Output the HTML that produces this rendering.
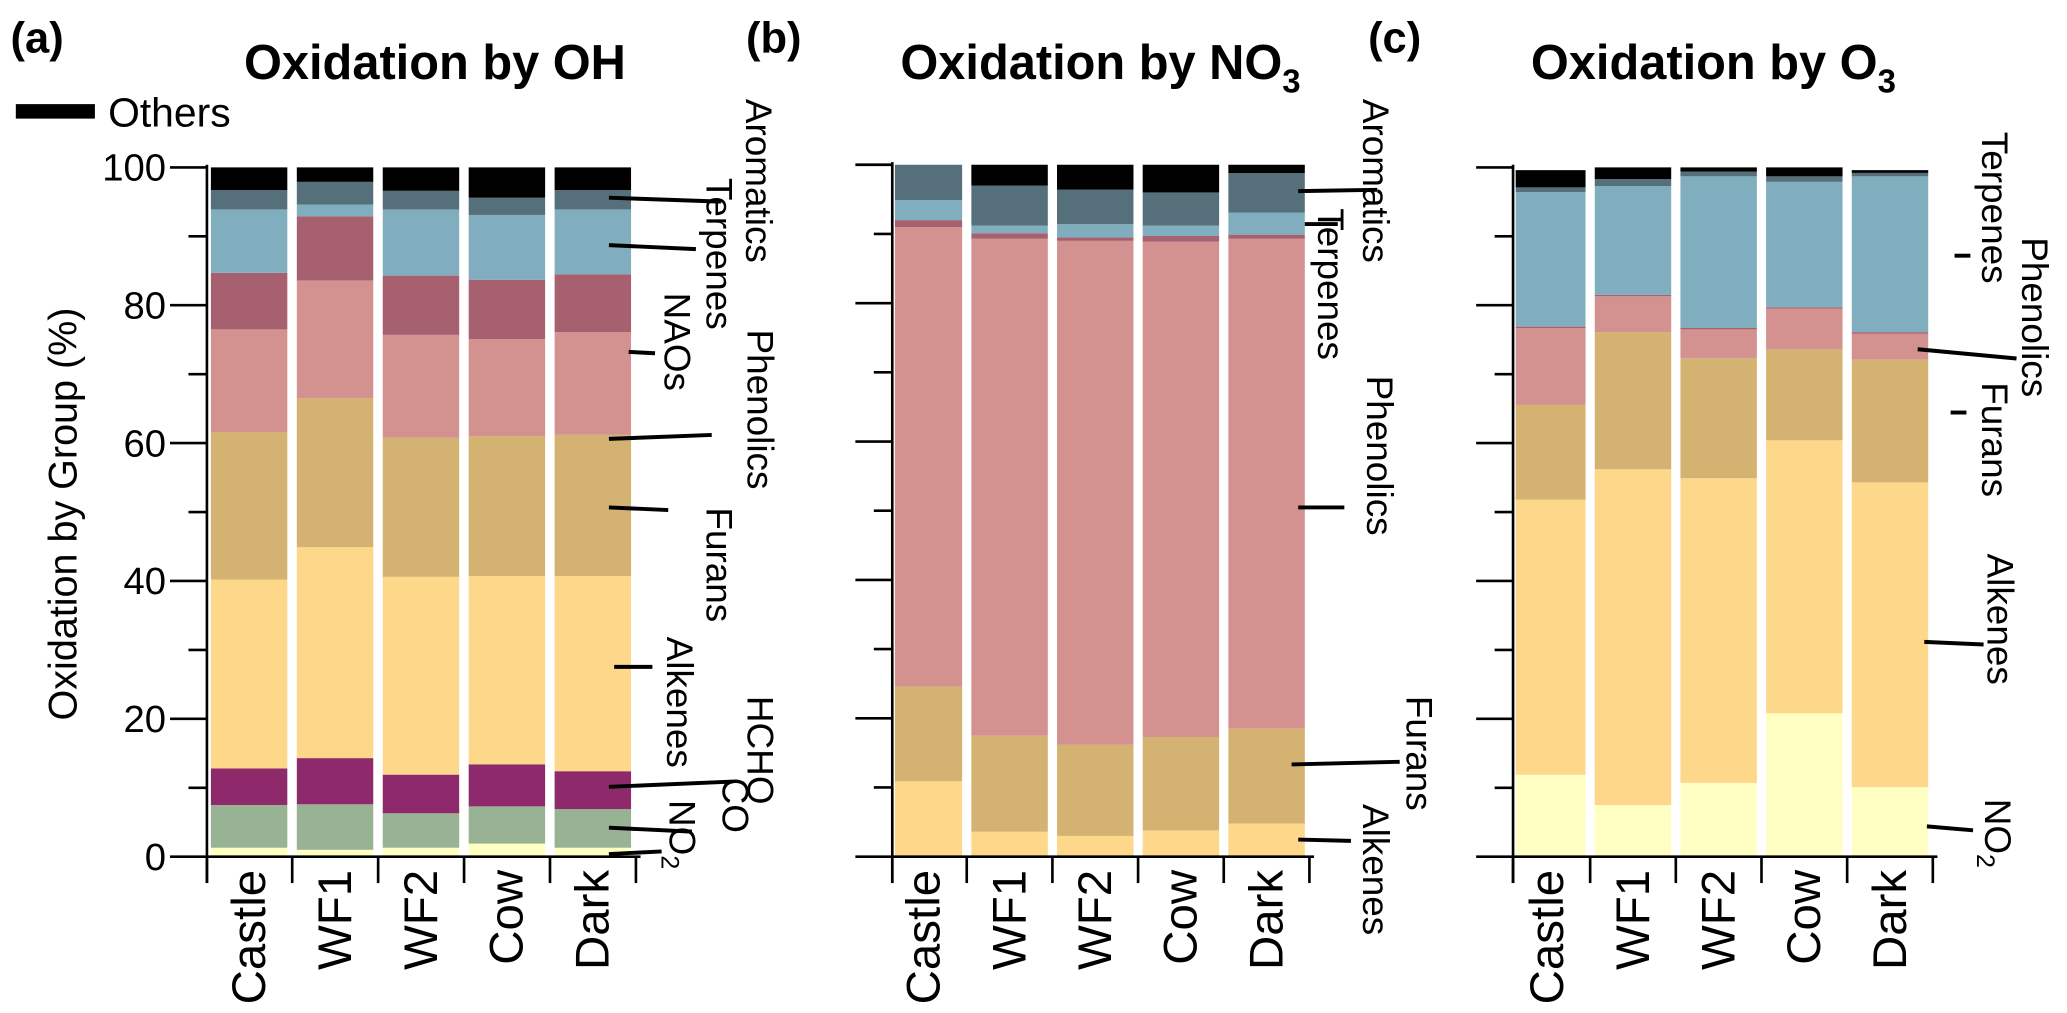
<!DOCTYPE html>
<html><head><meta charset="utf-8"><style>
html,body{margin:0;padding:0;background:#fff}
svg{display:block}
text{font-family:"Liberation Sans",sans-serif;fill:#000}
</style></head><body>
<svg id="fig" width="2067" height="1013" viewBox="0 0 1568.3 768.6" xmlns="http://www.w3.org/2000/svg">
<g id="root"></g>
</svg>
<script>
const categories = ["Castle","WF1","WF2","Cow","Dark"];
const groups = ["NO2","CO","HCHO","Alkenes","Furans","Phenolics","NAOs","Terpenes","Aromatics","Others"];
const colors = ["#fffec3","#97b394","#8e2a6b","#fdd78a","#d4b271","#d39190","#a6606f","#80aebe","#55707a","#000000"];
// cumulative tops (%) per group, per category
const cumOH = [
 [1.3,7.5,12.8,40.2,61.6,76.5,84.7,93.9,96.7,100],
 [1.0,7.6,14.3,44.9,66.5,83.6,92.9,94.6,97.9,100],
 [1.3,6.3,11.9,40.6,60.8,75.7,84.3,93.9,96.6,100],
 [1.9,7.3,13.4,40.7,61.0,75.1,83.7,93.1,95.6,100],
 [1.3,6.9,12.4,40.7,61.2,76.1,84.5,93.9,96.7,100]];
const cumNO3 = [
 [0,0,0,10.9,24.6,91.0,92.0,94.9,100,100],
 [0,0,0,3.6,17.5,89.3,90.1,91.2,97.0,100],
 [0,0,0,3.0,16.2,89.0,89.5,91.4,96.4,100],
 [0,0,0,3.8,17.3,88.9,89.7,91.2,96.0,100],
 [0,0,0,4.8,18.5,89.3,89.9,93.1,98.8,100]];
const cumO3 = [
 [11.9,11.9,11.9,51.8,65.6,76.7,76.9,96.4,97.1,99.6],
 [7.5,7.5,7.5,56.2,76.1,81.3,81.5,97.3,98.3,100],
 [10.7,10.7,10.7,54.9,72.3,76.5,76.7,98.7,99.4,100],
 [20.8,20.8,20.8,60.4,73.6,79.5,79.7,97.9,98.7,100],
 [10.1,10.1,10.1,54.3,72.1,75.9,76.1,98.7,99.2,99.6]];
const yTicks = [0,20,40,60,80,100];

const NS="http://www.w3.org/2000/svg";
const root=document.getElementById('root');
function mk(tag,attrs,parent){const e=document.createElementNS(NS,tag);for(const k in attrs)e.setAttribute(k,attrs[k]);(parent||root).appendChild(e);return e;}
function txt(s,attrs,parent){const e=mk('text',attrs,parent);e.textContent=s;return e;}

const panels=[
 {id:'oh',data:cumOH,axisX:157,firstBar:160,pitch:65.2,y0:650,y100:127,labels:true},
 {id:'no3',data:cumNO3,axisX:677,firstBar:672,pitch:65,y0:650,y100:125,labels:false},
 {id:'o3',data:cumO3,axisX:1148,firstBar:1145,pitch:65,y0:650,y100:127,labels:false}];
const barW=58;

panels.forEach(p=>{
 const g=mk('g',{});
 
 
 const y=v=>p.y0-(v/100)*(p.y0-p.y100);
 p.data.forEach((cum,ci)=>{
  const bx=p.firstBar+ci*p.pitch;
  const x0=Math.max(bx,p.axisX+2), x1=bx+barW;
  let prev=0;
  cum.forEach((top,gi)=>{
   if(top>prev){
    const r=mk('rect',{x:x0,y:y(top),width:x1-x0,height:y(prev)-y(top),fill:colors[gi]},g);
    
    
   }
   prev=top;
  });
  const lb=txt(categories[ci],{x:0,y:0,'font-size':36,'text-anchor':'end',transform:`translate(${bx+barW/2+12},${p.y0+10}) rotate(-90)`},g);
  
  
 });
 const endX=p.firstBar+5*p.pitch;
 mk('line',{x1:p.axisX,y1:p.y100-2,x2:p.axisX,y2:p.y0+20,stroke:'#000','stroke-width':2},g);
 mk('line',{x1:p.axisX,y1:p.y0,x2:endX,y2:p.y0,stroke:'#000','stroke-width':2},g);
 for(let i=0;i<=5;i++){const tx=(i==0?p.axisX:p.firstBar+i*p.pitch-3.5);mk('line',{x1:tx,y1:p.y0,x2:tx,y2:p.y0+20,stroke:'#000','stroke-width':2},g);}
 for(let v=0;v<=100;v+=10){
  const major=v%20===0;
  mk('line',{x1:p.axisX-(major?28:14),y1:y(v),x2:p.axisX,y2:y(v),stroke:'#000','stroke-width':2},g);
 }
 if(p.labels){yTicks.forEach(v=>{const t=txt(String(v),{x:p.axisX-31,y:y(v)+10,'font-size':29,'text-anchor':'end'},g);
  
  });}
});

[["(a)",8,40],["(b)",566,40],["(c)",1038,40]].forEach(a=>{const t=txt(a[0],{x:a[1],y:a[2],'font-size':33,'font-weight':'bold'});
 
 });
</script>
<script>
const s=document.getElementById('fig');
function add(html){s.insertAdjacentHTML('beforeend',html);}
add(`<text x="330" y="60" font-size="37" font-weight="bold" text-anchor="middle">Oxidation by OH</text>
<text x="835" y="60" font-size="37" font-weight="bold" text-anchor="middle">Oxidation by NO<tspan font-size="25" dy="10">3</tspan></text>
<text x="1300" y="60" font-size="37" font-weight="bold" text-anchor="middle">Oxidation by O<tspan font-size="25" dy="10">3</tspan></text>
<rect x="12" y="79" width="60" height="11" fill="#000"/>
<text x="82" y="96" font-size="31">Others</text>
<text transform="translate(58,390) rotate(-90)" font-size="30" text-anchor="middle">Oxidation by Group (%)</text>`);
const ann=[
 ["Aromatics",577,75,[462,150,547,153]],
 ["Terpenes",547,135,[462,186,528,189]],
 ["NAOs",515,222,[477,267,497,268]],
 ["Phenolics",578,250,[462,333,540,330]],
 ["Furans",547,385,[462,385,507,387]],
 ["Alkenes",517,483,[466,506,495,506]],
 ["HCHO",578,528,[462,597,556,593]],
 ["CO",559,590,[462,628,525,631]],
 ["NO2",519,607,[462,648,502,646]],
 ["Aromatics",1045,75,[985,145,1045,144]],
 ["Terpenes",1011,158,[990,170,1015,170]],
 ["Phenolics",1048,285,[985,385,1020,385]],
 ["Furans",1078,528,[980,580,1062,578]],
 ["Alkenes",1045,610,[985,637,1025,638]],
 ["Terpenes",1515,100,[1483,194,1495,194]],
 ["Phenolics",1545,180,[1455,265,1530,272]],
 ["Furans",1515,290,[1480,313,1492,313]],
 ["Alkenes",1519,420,[1460,487,1505,489]],
 ["NO2",1517,606,[1462,627,1497,630]]];
ann.forEach((a,i)=>{
 const l=a[3];
 const label=a[0]==="NO2"?`NO<tspan font-size="19" dy="6">2</tspan>`:a[0];
 add(`<line x1="${l[0]}" y1="${l[1]}" x2="${l[2]}" y2="${l[3]}" stroke="#000" stroke-width="3"/>
<text transform="translate(${a[1]-11},${a[2]}) rotate(90)" font-size="28">${label}</text>`);
});
</script>
</body></html>
